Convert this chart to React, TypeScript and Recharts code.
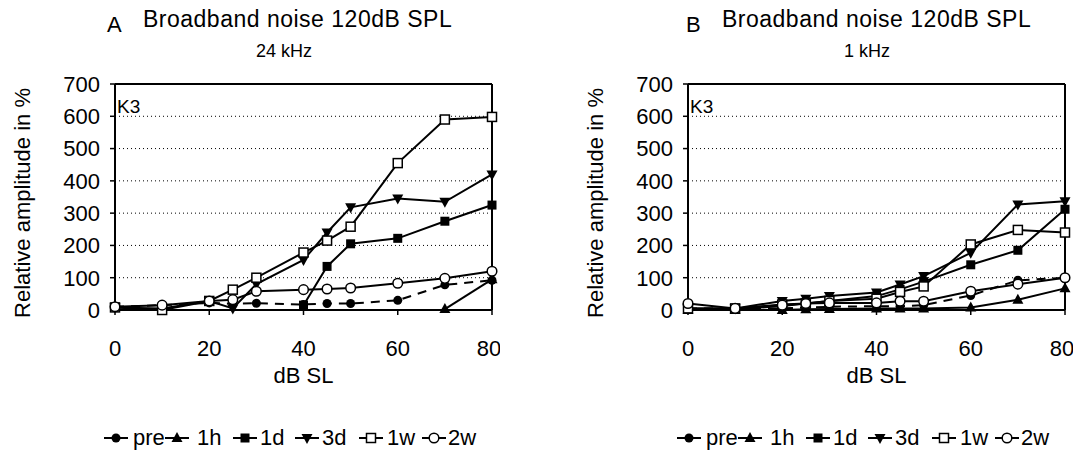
import React from "react";
import {
  LineChart,
  Line,
  XAxis,
  YAxis,
  CartesianGrid,
  ReferenceLine,
} from "recharts";

const FONT = "Arial, 'Liberation Sans', Helvetica, sans-serif";

// dB SL levels measured
const DB_SL = [0, 10, 20, 25, 30, 40, 45, 50, 60, 70, 80];
const SERIES = ["pre", "1h", "1d", "3d", "1w", "2w"];
const Y_TICKS = [0, 100, 200, 300, 400, 500, 600, 700];
const X_TICKS = [0, 20, 40, 60, 80];

// panel A, 24 kHz (null = not visible above the axis)
const A_PRE = [10, 15, 22, 20, 21, 17, 20, 20, 30, 78, 92];
const A_1H = [null, null, null, null, null, null, null, null, null, 3, 95];
const A_1D = [null, null, null, null, null, 15, 135, 205, 222, 275, 325];
const A_3D = [8, 5, 28, 5, 80, 155, 240, 318, 345, 335, 420];
const A_1W = [8, 0, 28, 63, 100, 178, 215, 258, 455, 590, 598];
const A_2W = [10, 15, 28, 32, 58, 63, 65, 68, 83, 98, 120];

// panel B, 1 kHz
const B_PRE = [5, 5, 5, 8, 10, 12, 12, 15, 45, 92, 100];
const B_1H = [0, 0, 0, 2, 3, 5, 5, 5, 8, 32, 67];
const B_1D = [3, 3, 12, 20, 28, 43, 64, 88, 140, 185, 312];
const B_3D = [5, 5, 28, 35, 43, 54, 79, 105, 177, 327, 337];
const B_1W = [5, 5, 17, 20, 28, 35, 56, 73, 203, 248, 240];
const B_2W = [20, 5, 15, 20, 22, 22, 27, 27, 58, 80, 100];

function rows(cols: (number | null)[][]) {
  return DB_SL.map((x, i) => {
    const r: Record<string, number | null> = { x };
    SERIES.forEach((s, j) => (r[s] = cols[j][i]));
    return r;
  });
}

const dataA = rows([A_PRE, A_1H, A_1D, A_3D, A_1W, A_2W]);
const dataB = rows([B_PRE, B_1H, B_1D, B_3D, B_1W, B_2W]);

function Marker({ kind, cx, cy }: { kind: string; cx: number; cy: number }) {
  switch (kind) {
    case "pre":
      return <circle cx={cx} cy={cy} r={4.5} fill="#000" />;
    case "1h":
      return (
        <polygon
          points={`${cx},${cy - 6} ${cx - 5.5},${cy + 4} ${cx + 5.5},${cy + 4}`}
          fill="#000"
        />
      );
    case "1d":
      return <rect x={cx - 4.5} y={cy - 4.5} width={9} height={9} fill="#000" />;
    case "3d":
      return (
        <polygon
          points={`${cx},${cy + 6} ${cx - 5.5},${cy - 4} ${cx + 5.5},${cy - 4}`}
          fill="#000"
        />
      );
    case "1w":
      return (
        <rect
          x={cx - 4.5}
          y={cy - 4.5}
          width={9}
          height={9}
          fill="#fff"
          stroke="#000"
          strokeWidth={1.5}
        />
      );
    default:
      return <circle cx={cx} cy={cy} r={4.8} fill="#fff" stroke="#000" strokeWidth={1.5} />;
  }
}

const dotFor = (kind: string) => (p: any) => (
  <g key={`${kind}-${p.index}`}>
    {p.cx != null && p.cy != null && p.value != null ? (
      <Marker kind={kind} cx={p.cx} cy={p.cy} />
    ) : null}
  </g>
);

const LEGEND_POS = [
  { s: "pre", icon: 104, text: 133 },
  { s: "1h", icon: 165, text: 197 },
  { s: "1d", icon: 233, text: 260 },
  { s: "3d", icon: 295, text: 322 },
  { s: "1w", icon: 359, text: 387 },
  { s: "2w", icon: 422, text: 448 },
];

function Panel({
  left,
  letter,
  sub,
  subX,
  titleDx,
  data,
}: {
  left: number;
  letter: string;
  sub: string;
  subX: number;
  titleDx: number;
  data: Record<string, number | null>[];
}) {
  return (
    <div style={{ position: "absolute", left, top: 0, width: 500, height: 461 }}>
      <div
        style={{ position: "absolute", left: 107 + titleDx, top: 14, fontSize: 22, lineHeight: 1 }}
      >
        {letter}
      </div>
      <div
        style={{
          position: "absolute",
          left: 143 + titleDx,
          top: 8,
          fontSize: 23,
          lineHeight: 1,
          letterSpacing: 0.5,
          whiteSpace: "nowrap",
        }}
      >
        Broadband noise 120dB SPL
      </div>
      <div
        style={{
          position: "absolute",
          left: subX,
          top: 42,
          fontSize: 18,
          lineHeight: 1,
          transform: "translateX(-50%)",
          whiteSpace: "nowrap",
        }}
      >
        {sub}
      </div>
      <div
        style={{
          position: "absolute",
          left: 23,
          top: 203,
          fontSize: 22,
          lineHeight: 1,
          whiteSpace: "nowrap",
          transform: "translate(-50%, -50%) rotate(-90deg)",
        }}
      >
        Relative amplitude in %
      </div>
      <LineChart
        width={500}
        height={461}
        data={data}
        margin={{ top: 84, right: 8, bottom: 81, left: 55 }}
        style={{ position: "absolute", left: 0, top: 0 }}
      >
        <CartesianGrid
          vertical={false}
          stroke="#000"
          strokeDasharray="1 3"
          strokeWidth={1}
        />
        <XAxis
          type="number"
          dataKey="x"
          domain={[0, 80]}
          ticks={X_TICKS}
          height={70}
          axisLine={{ stroke: "#000", strokeWidth: 2 }}
          tickLine={{ stroke: "#000", strokeWidth: 1.5 }}
          tickSize={5}
          tickMargin={25}
          tick={{ fill: "#000", fontSize: 22, fontFamily: FONT }}
          label={{
            value: "dB SL",
            position: "insideBottom",
            offset: -3,
            fill: "#000",
            fontSize: 22,
            fontFamily: FONT,
          }}
        />
        <YAxis
          type="number"
          domain={[0, 700]}
          ticks={Y_TICKS}
          width={60}
          interval={0}
          axisLine={{ stroke: "#000", strokeWidth: 2 }}
          tickLine={{ stroke: "#000", strokeWidth: 1.5 }}
          tickSize={5}
          tickMargin={10}
          tick={{ fill: "#000", fontSize: 22, fontFamily: FONT }}
        />
        <ReferenceLine y={700} stroke="#000" strokeWidth={2} />
        <ReferenceLine x={80} stroke="#000" strokeWidth={2} />
        {SERIES.map((s) => (
          <Line
            key={s}
            dataKey={s}
            type="linear"
            stroke="#000"
            strokeWidth={2}
            strokeDasharray={s === "pre" ? "9 7" : undefined}
            dot={dotFor(s)}
            activeDot={false}
            isAnimationActive={false}
          />
        ))}
      </LineChart>
      <div style={{ position: "absolute", left: 117, top: 97, fontSize: 19, lineHeight: 1 }}>
        K3
      </div>
      {LEGEND_POS.map((l) => (
        <React.Fragment key={l.s}>
          <svg
            width={24}
            height={16}
            style={{ position: "absolute", left: l.icon, top: 430, overflow: "visible" }}
          >
            <line x1={0} y1={8} x2={24} y2={8} stroke="#000" strokeWidth={2} />
            <Marker kind={l.s} cx={12} cy={8} />
          </svg>
          <div
            style={{
              position: "absolute",
              left: l.text,
              top: 427,
              fontSize: 22,
              lineHeight: 1,
            }}
          >
            {l.s}
          </div>
        </React.Fragment>
      ))}
    </div>
  );
}

export default function App() {
  return (
    <div
      style={{
        position: "absolute",
        left: 0,
        top: 0,
        width: 1076,
        height: 461,
        background: "#fff",
        overflow: "hidden",
        fontFamily: FONT,
        color: "#000",
      }}
    >
      <Panel left={0} letter="A" sub="24 kHz" subX={284} titleDx={0} data={dataA} />
      <Panel left={573} letter="B" sub="1 kHz" subX={294} titleDx={6} data={dataB} />
    </div>
  );
}
